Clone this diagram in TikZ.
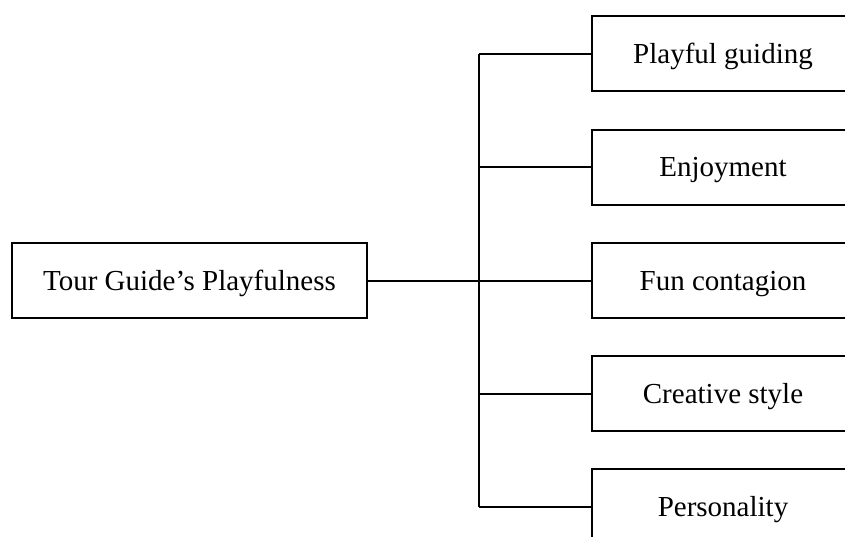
\documentclass[tikz,border=0pt]{standalone}
\usepackage{fontspec}
\setmainfont{Liberation Serif}
\begin{document}
\begin{tikzpicture}[x=1pt,y=-1pt,
  box/.style={draw=black,line width=2pt,fill=white,inner sep=0pt,
    minimum height=75pt,text height=19.2pt,text depth=0pt,
    font=\fontsize{29}{34}\selectfont},
  rootbox/.style={box,minimum width=355pt},
  leafbox/.style={box,minimum width=262pt},
  link/.style={draw=black,line width=2pt}]
\useasboundingbox (0,0) rectangle (845,536);
\clip (0,0) rectangle (845,536);
\fill[white] (0,0) rectangle (845,536);

% central concept
\node[rootbox] (root) at (189.5,280.5) {Tour Guide’s Playfulness};

% dimensions
\node[leafbox] (d1) at (723,53.5)  {Playful guiding};
\node[leafbox] (d2) at (723,167)   {Enjoyment};
\node[leafbox] (d3) at (723,280.5) {Fun contagion};
\node[leafbox] (d4) at (723,393.5) {Creative style};
\node[leafbox] (d5) at (723,506.5) {Personality};

% vertical trunk of the bracket
\coordinate (trunk) at (479,280.5);
\draw[link] (d1.west -| trunk) -- (d5.west -| trunk);

% connectors
\draw[link] (root.east) -- (trunk);
\foreach \n in {d1,d2,d3,d4,d5}
  \draw[link] (\n.west -| trunk) -- (\n.west);
\end{tikzpicture}
\end{document}
